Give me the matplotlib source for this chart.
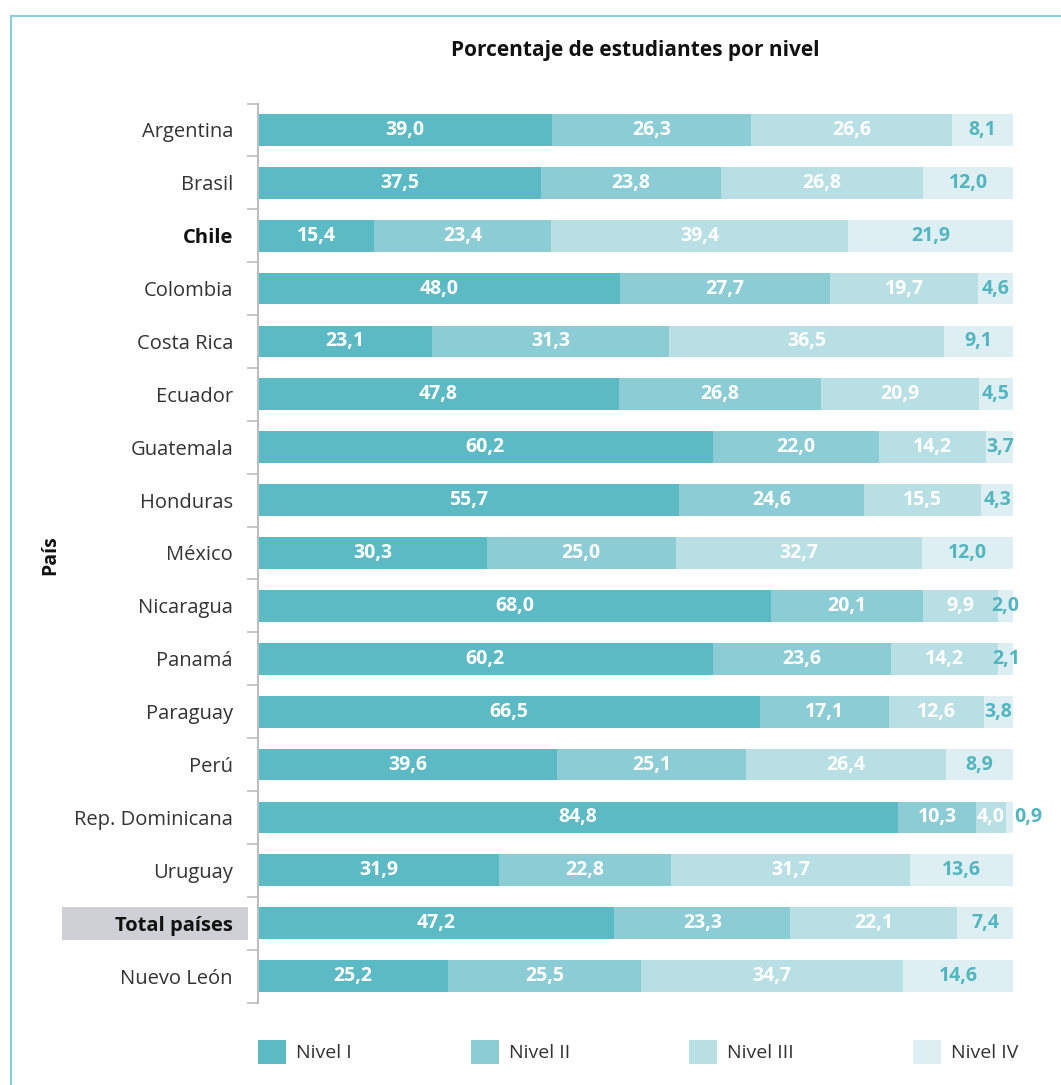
import matplotlib
matplotlib.use("Agg")
import matplotlib.pyplot as plt
import matplotlib.transforms as mtransforms
from matplotlib.patches import Rectangle, Patch
from matplotlib.lines import Line2D
import numpy as np

plt.rcParams['font.family'] = ['Open Sans', 'DejaVu Sans']

countries = ["Argentina", "Brasil", "Chile", "Colombia", "Costa Rica", "Ecuador",
             "Guatemala", "Honduras", "México", "Nicaragua", "Panamá", "Paraguay",
             "Perú", "Rep. Dominicana", "Uruguay", "Total países", "Nuevo León"]
nivel_1 = [39.0, 37.5, 15.4, 48.0, 23.1, 47.8, 60.2, 55.7, 30.3, 68.0, 60.2, 66.5, 39.6, 84.8, 31.9, 47.2, 25.2]
nivel_2 = [26.3, 23.8, 23.4, 27.7, 31.3, 26.8, 22.0, 24.6, 25.0, 20.1, 23.6, 17.1, 25.1, 10.3, 22.8, 23.3, 25.5]
nivel_3 = [26.6, 26.8, 39.4, 19.7, 36.5, 20.9, 14.2, 15.5, 32.7, 9.9, 14.2, 12.6, 26.4, 4.0, 31.7, 22.1, 34.7]
nivel_4 = [8.1, 12.0, 21.9, 4.6, 9.1, 4.5, 3.7, 4.3, 12.0, 2.0, 2.1, 3.8, 8.9, 0.9, 13.6, 7.4, 14.6]
level_names = ["Nivel I", "Nivel II", "Nivel III", "Nivel IV"]
bold_rows = ["Chile", "Total países"]
highlight_row = "Total países"

colors = ["#5BBAC4", "#8CCCD5", "#B8DFE4", "#DDEFF2"]
label_colors = ["white", "white", "white", "#52B5C0"]

W, H = 1061, 1085
fig = plt.figure(figsize=(W / 100, H / 100), dpi=100)
ax = fig.add_axes([258 / W, 1 - 1002.5 / H, (1013 - 258) / W, (1002.5 - 103.5) / H])

y = np.arange(len(countries))
series = [nivel_1, nivel_2, nivel_3, nivel_4]
left = np.zeros(len(countries))
for k, vals in enumerate(series):
    vals = np.array(vals)
    ax.barh(y, vals, left=left, height=0.6, color=colors[k], edgecolor='none', zorder=2)
    for i, v in enumerate(vals):
        txt = f"{v:.1f}".replace(".", ",")
        if v < 1.5:
            xpos = left[i] + v + 2.0
        else:
            xpos = left[i] + v / 2
        ax.text(xpos, i, txt, ha='center', va='center', color=label_colors[k],
                fontsize=14, fontweight='bold', zorder=3)
    left = left + vals

ax.set_xlim(0, 100)
ax.set_ylim(len(countries) - 0.5, -0.5)
ax.set_yticks(y)
ax.set_yticklabels(countries)
ax.set_yticks(np.arange(-0.5, len(countries), 1.0), minor=True)
ax.tick_params(axis='y', which='major', length=0, pad=18, labelsize=14.5, labelcolor='#333333')
ax.tick_params(axis='y', which='minor', length=8, width=1.2, color='#BDBDBD')
for lbl in ax.get_yticklabels():
    if lbl.get_text() in bold_rows:
        lbl.set_fontweight('bold')
        lbl.set_color('#111111')
ax.set_xticks([])
for s in ['top', 'right', 'bottom']:
    ax.spines[s].set_visible(False)
ax.spines['left'].set_color('#BDBDBD')
ax.spines['left'].set_linewidth(1.5)

# highlight background for total row
trans = mtransforms.blended_transform_factory(fig.transFigure, ax.transData)
hi = countries.index(highlight_row)
ax.add_patch(Rectangle((62 / W, hi - 0.31), (248 - 62) / W, 0.62, transform=trans,
                       facecolor='#CFD0D5', edgecolor='none', clip_on=False, zorder=0))

ax.set_title("Porcentaje de estudiantes por nivel", fontsize=15, fontweight='bold',
             color='#111111', pad=34)
fig.text(50 / W, 1 - 555 / H, "País", rotation=90, ha='center', va='center',
         fontsize=14, fontweight='bold', color='#111111')

# legend
handles = [Patch(facecolor=c, edgecolor='none') for c in colors]
leg = fig.legend(handles, level_names, loc='center left',
                 bbox_to_anchor=(258 / W, 1 - 1052 / H, (1018 - 258) / W, 0.0),
                 mode='expand', ncol=4, frameon=False, fontsize=14,
                 handlelength=1.45, handleheight=1.45, handletextpad=0.5,
                 borderaxespad=0, borderpad=0)
for t in leg.get_texts():
    t.set_color('#333333')

# outer frame (top and left edges)
frame_c = '#86CFD7'
fig.add_artist(Line2D([10.5 / W, 10.5 / W], [0, 1 - 15.5 / H], color=frame_c, lw=1.5,
                      transform=fig.transFigure))
fig.add_artist(Line2D([10.5 / W, 1], [1 - 15.5 / H, 1 - 15.5 / H], color=frame_c, lw=1.5,
                      transform=fig.transFigure))

fig.savefig("out.png", dpi=100)
